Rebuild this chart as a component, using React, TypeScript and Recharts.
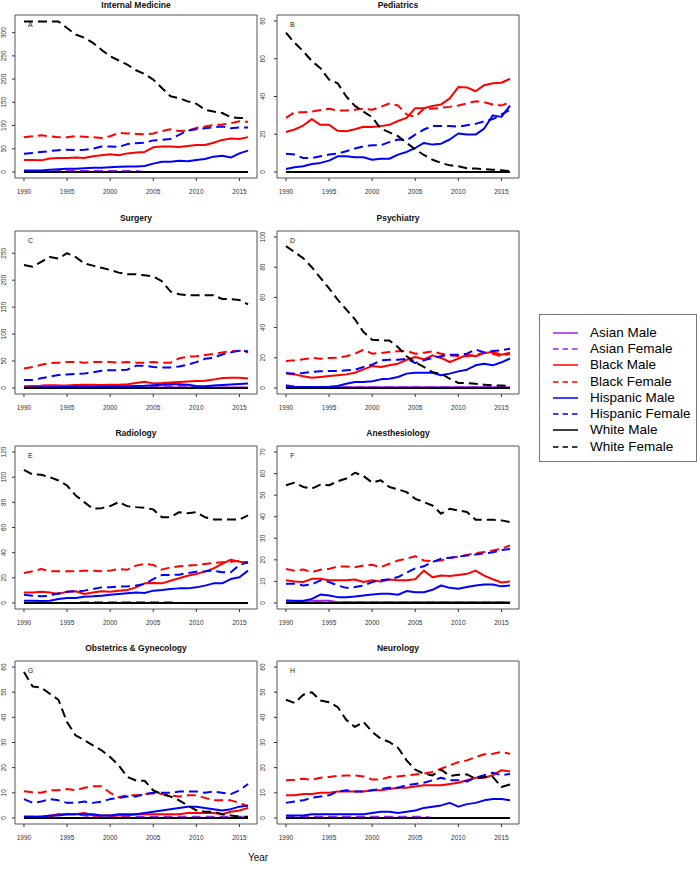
import React from 'react';
import { LineChart, Line, XAxis, YAxis, ReferenceArea, ReferenceDot, Legend } from 'recharts';

const FONT = '"Liberation Sans", Arial, Helvetica, sans-serif';

const years = [1990, 1991, 1992, 1993, 1994, 1995, 1996, 1997, 1998, 1999, 2000, 2001, 2002, 2003, 2004, 2005, 2006, 2007, 2008, 2009, 2010, 2011, 2012, 2013, 2014, 2015, 2016];
const xTicks = [1990, 1995, 2000, 2005, 2010, 2015];

// one small table per specialty, one list per group (1990..2016)
const internalMedicine = {
  asianMale: [0, 0, 0, 0, 0, 0, 0, 0, 0, 0, 0, 0, 0, 0, 0, 0, 0, 0, 0, 0, 0, 0, 0, 0, 0, 0, 0],
  asianFemale: [0, 0, 0, 0, 2, 2, 2, 2, 2, 2, 2, 2, 2, 2, 0, 0, 0, 0, 0, 0, 0, 0, 0, 0, 0, 0, 0],
  blackMale: [26, 26, 25, 29, 30, 30, 31, 30, 34, 36, 38, 36, 40, 42, 43, 53, 55, 55, 54, 56, 58, 58, 63, 69, 72, 71, 75],
  blackFemale: [75, 77, 79, 77, 75, 75, 77, 76, 75, 73, 77, 84, 83, 82, 81, 83, 88, 92, 88, 89, 95, 98, 101, 102, 105, 109, 108],
  hispanicMale: [3, 3, 3, 5, 6, 7, 7, 8, 9, 9, 10, 11, 12, 12, 13, 18, 22, 22, 24, 23, 26, 28, 33, 35, 31, 40, 46],
  hispanicFemale: [39, 41, 43, 45, 47, 48, 47, 48, 50, 55, 55, 54, 60, 62, 63, 68, 69, 71, 80, 89, 92, 94, 96, 98, 94, 96, 96],
  whiteMale: [0, 0, 0, 0, 0, 0, 0, 0, 0, 0, 0, 0, 0, 0, 0, 0, 0, 0, 0, 0, 0, 0, 0, 0, 0, 0, 0],
  whiteFemale: [324, 324, 324, 324, 324, 310, 296, 289, 278, 263, 249, 240, 231, 219, 211, 199, 181, 163, 159, 152, 147, 134, 130, 127, 118, 116, 116],
};

const pediatrics = {
  asianMale: [0, 0, 0, 0, 0, 0, 0, 0, 0, 0, 0, 0, 0, 0, 0, 0, 0, 0, 0, 0, 0, 0, 0, 0, 0, 0, 0],
  asianFemale: [0, 0, 0, 0, 0, 0, 0, 0, 0, 0, 0, 0, 0, 0, 0, 0, 0, 0, 0, 0, 0, 0, 0, 0, 0, 0, 0],
  blackMale: [21.2, 22.5, 24.6, 28, 25, 25, 21.8, 21.6, 22.6, 24, 23.8, 24.3, 25, 27, 28.7, 33.8, 33.8, 35, 35.8, 39, 45, 44.8, 42.8, 46, 47, 47.3, 49.4],
  blackFemale: [28.7, 31.7, 31.7, 32, 32.8, 33.5, 32.6, 32.6, 33, 33.5, 33, 34.5, 36.3, 35.2, 30.5, 29.2, 33.5, 33.5, 34, 34.5, 35.2, 36.3, 37.5, 37, 35.8, 35.2, 37],
  hispanicMale: [1.6, 2.5, 3, 4.2, 4.8, 6, 8.3, 8.3, 7.8, 7.8, 6.5, 7, 7, 9.2, 10.6, 12.7, 15.4, 14.5, 15, 17.2, 20.4, 19.8, 19.8, 23, 30, 29.2, 35.2],
  hispanicFemale: [9.7, 9.2, 7.4, 7.4, 8.3, 9.2, 9.7, 11, 12.4, 13.6, 14.2, 14.2, 15.8, 17.2, 16.8, 19.8, 22.5, 24.3, 24.3, 24.3, 24, 24.8, 25.5, 26.9, 28, 30.5, 33],
  whiteMale: [0, 0, 0, 0, 0, 0, 0, 0, 0, 0, 0, 0, 0, 0, 0, 0, 0, 0, 0, 0, 0, 0, 0, 0, 0, 0, 0],
  whiteFemale: [73.8, 68.5, 64, 58.8, 55, 49, 47, 40, 35, 32, 29, 23, 21, 19, 15.4, 12, 9, 6.5, 4.8, 3.5, 3, 2, 1.8, 1.5, 1.2, 0.9, 0.5],
};

const surgery = {
  asianMale: [1, 1, 1.5, 1.5, 1, 1, 1, 1, 1, 1, 1, 1, 1, 1, 1, 1, 1, 1, 1, 1, 1, 1, 1, 1, 1, 1, 1],
  asianFemale: [1, 2, 4, 5, 4, 3, 2, 1, 1, 1, 1, 1, 1, 1, 1, 2, 3, 3, 4, 4, 3, 2, 1, 0.5, 0.5, 0.5, 0.5],
  blackMale: [3, 3.5, 4, 5, 4.5, 4.5, 5.5, 6, 6, 5.5, 6, 6, 7, 9, 11.5, 8.5, 9, 10, 11, 12, 13, 13.5, 15.5, 18.5, 19, 19, 17.5],
  blackFemale: [36, 39, 43, 46, 47, 48, 48, 47, 48, 48, 48, 47, 48, 47, 47, 48, 47, 47, 55, 58, 59, 61, 63, 66, 68, 69, 66],
  hispanicMale: [1, 1, 1.5, 1.5, 2, 2, 2.5, 2.5, 2.5, 2.5, 3, 3, 3, 3.5, 4, 5, 6, 7.5, 7, 6, 3.5, 3, 4.5, 5.5, 6.5, 7.5, 8.5],
  hispanicFemale: [15, 15, 18, 21, 24, 25, 26, 27, 29, 32, 33, 33, 34, 41, 41, 39, 38, 38, 40, 43, 48, 54, 56, 62, 66, 69, 68],
  whiteMale: [0, 0, 0, 0, 0, 0, 0, 0, 0, 0, 0, 0, 0, 0, 0, 0, 0, 0, 0, 0, 0, 0, 0, 0, 0, 0, 0],
  whiteFemale: [228, 225, 234, 243, 240, 250, 243, 231, 227, 223, 219, 214, 211, 211, 209, 207, 198, 179, 174, 172, 172, 172, 172, 165, 165, 163, 155],
};

const psychiatry = {
  asianMale: [1.5, 0.5, 0.5, 0.5, 0.5, 0.5, 0.5, 0.5, 0.5, 0.5, 0.5, 0.5, 0.5, 0.5, 0.5, 0.5, 0.5, 0.5, 0.5, 0.5, 0.5, 0.5, 0.5, 0.5, 0.5, 0.5, 0.5],
  asianFemale: [1.8, 1, 0.5, 0.5, 0.5, 0.5, 0.5, 0.5, 0.5, 0.5, 0.5, 0.5, 0.5, 0.5, 0.5, 0.5, 0.5, 0.5, 0.5, 0.5, 0.5, 0.5, 0.5, 0.5, 0.5, 0.5, 0.5],
  blackMale: [9.5, 9, 7.7, 6.8, 7.3, 7.9, 8.4, 9, 10.1, 12.3, 14.5, 13.9, 15, 16.1, 18.7, 20.5, 19, 21.6, 19.9, 17.2, 19.4, 22, 21, 23.2, 23.8, 22, 23.4],
  blackFemale: [17.9, 18.3, 19, 19.9, 19.4, 19.9, 20, 21, 22.7, 25.4, 22.7, 23.2, 23.8, 24.3, 24.5, 22.7, 23.4, 24.3, 22.7, 21.6, 21.2, 21, 22, 23.4, 22.7, 21, 22.7],
  hispanicMale: [1.3, 0.6, 0.6, 0.6, 0.6, 0.8, 1.3, 2.8, 3.9, 3.9, 4.4, 5.7, 6.1, 7.3, 9.5, 10.1, 10.1, 10.1, 8.4, 9.5, 11, 12.1, 15, 16.1, 15, 17, 19.5],
  hispanicFemale: [9.9, 9.5, 9.9, 10.6, 11, 11.2, 11.2, 11.7, 12.1, 13.9, 15.4, 18.3, 18.7, 18.7, 19.4, 16.5, 18.3, 20, 21, 22, 22, 22.7, 25.5, 23.5, 24.5, 25, 26],
  whiteMale: [0, 0, 0, 0, 0, 0, 0, 0, 0, 0, 0, 0, 0, 0, 0, 0, 0, 0, 0, 0, 0, 0, 0, 0, 0, 0, 0],
  whiteFemale: [94, 90, 86, 80, 73, 66, 58.5, 52, 45.5, 37, 32, 31.5, 31.5, 27, 21, 17, 13.9, 10.5, 9.5, 6.1, 3.3, 3.3, 2.8, 2.2, 1.7, 1.7, 1.3],
};

const radiology = {
  asianMale: [0, 0, 0, 0, 0, 0, 0, 0, 0, 0, 0, 0, 0, 0, 0, 0, 0, 0, 0, 0, 0, 0, 0, 0, 0, 0, 0],
  asianFemale: [0, 0, 0, 0, 0, 0, 0, 0.6, 0.6, 0.6, 0.6, 0.6, 0.6, 0.6, 0.6, 0.6, 0.6, 0.6, 0, 0, 0, 0, 0, 0, 0, 0, 0],
  blackMale: [8.4, 8.4, 9, 8.4, 7.1, 9, 9.3, 7.1, 8.4, 9.3, 9, 9.8, 10.3, 12.4, 15.6, 15.9, 15.6, 17.7, 19.6, 21.7, 23, 24.9, 27.5, 31, 34.4, 32.8, 32.3],
  blackFemale: [23.8, 25.2, 27, 25.2, 25.2, 25.2, 25.2, 25.7, 25.7, 25.2, 25.7, 27, 26.5, 29.7, 31, 30.2, 26.5, 28.3, 29.1, 29.7, 30.2, 31, 31.8, 32.3, 32.8, 33.6, 31.8],
  hispanicMale: [1.8, 1.8, 1.6, 1.8, 3.2, 3.9, 3.9, 5, 5.3, 5.8, 6.6, 7.1, 7.7, 8.4, 7.9, 9.8, 10.3, 11.1, 11.6, 11.6, 12.4, 13.8, 15.6, 15.6, 19, 20.4, 25.7],
  hispanicFemale: [6.6, 5.8, 5.3, 5.8, 7.7, 9, 9.3, 9.8, 11.1, 12.4, 12.4, 13, 13.2, 13.8, 15.1, 19, 22.2, 22.2, 22.5, 23.8, 24.9, 25.2, 25.7, 24.4, 24.4, 30.2, 32.3],
  whiteMale: [0, 0, 0, 0, 0, 0, 0, 0, 0, 0, 0, 0, 0, 0, 0, 0, 0, 0, 0, 0, 0, 0, 0, 0, 0, 0, 0],
  whiteFemale: [105.9, 102.2, 102, 100, 97.4, 93.4, 85.5, 80.2, 74.9, 75.4, 77, 80.2, 77, 76.2, 75.7, 74.4, 68.2, 68.2, 72.2, 71.4, 72.2, 68.2, 66.4, 66.4, 66.4, 66.4, 69.6],
};

const anesthesiology = {
  asianMale: [1, 1, 1, 1, 1, 1, 0.3, 0.3, 0.3, 0.3, 0.3, 0.3, 0.3, 0.3, 0.3, 0.3, 0.3, 0.3, 0.3, 0.3, 0.3, 0.3, 0.3, 0.3, 0.3, 0.3, 0.3],
  asianFemale: [0.5, 0.5, 0.5, 0.5, 0.5, 0.5, 0.5, 0.5, 0.5, 0.5, 0.5, 0.5, 0.5, 0.5, 0.5, 0.5, 0.5, 0.5, 0.5, 0.5, 0.5, 0.5, 0.5, 0.5, 0.5, 0.5, 0.5],
  blackMale: [10.5, 10, 9.7, 11.2, 11.2, 10.5, 10.5, 10.5, 10.9, 9.7, 10.5, 10, 10.9, 10.5, 10.5, 11, 15, 11.9, 12.7, 12.5, 13, 13.5, 15, 12.7, 11, 9.5, 10],
  blackFemale: [15.8, 15, 15.5, 14.3, 15.4, 15.8, 16.9, 16.9, 16.6, 17.4, 17.7, 16.6, 18.2, 19.7, 20.5, 21.7, 19.7, 19.4, 19.7, 20.8, 21.5, 22.3, 23.1, 23.6, 24.3, 25.1, 26.7],
  hispanicMale: [1.2, 0.9, 0.9, 1.9, 3.9, 3.5, 2.7, 2.7, 3, 3.5, 3.9, 4.3, 4.3, 3.8, 5.5, 5, 5, 6.1, 8.1, 7, 6.6, 7.4, 8.1, 8.6, 8.6, 7.7, 8.1],
  hispanicFemale: [8.9, 8.9, 8.1, 8.6, 10.5, 9.7, 8.1, 7, 7.4, 8.1, 9.7, 10.5, 11, 12, 14, 16, 17, 19, 20.5, 21, 21.5, 22, 22.5, 23, 23.5, 24.5, 25],
  whiteMale: [0, 0, 0, 0, 0, 0, 0, 0, 0, 0, 0, 0, 0, 0, 0, 0, 0, 0, 0, 0, 0, 0, 0, 0, 0, 0, 0],
  whiteFemale: [54.6, 55.8, 53.8, 53, 54.9, 54.6, 56.4, 57.7, 60.4, 58.9, 55.8, 56.9, 53.8, 52.7, 51.4, 48.3, 46.8, 45.2, 41.4, 43.7, 42.9, 42.2, 38.6, 38.6, 38.6, 38.3, 37.5],
};

const obGyn = {
  asianMale: [0, 0, 0, 0, 0, 0, 0, 0, 0, 0, 0, 0, 0, 0, 0, 0, 0, 0, 0, 0, 0, 0, 0, 0, 0, 0, 0],
  asianFemale: [0.5, 0.5, 0.5, 1, 1.5, 1.5, 1.5, 1, 0.5, 0.5, 0.5, 0.5, 0.5, 0.5, 0.5, 0.5, 0.5, 0.5, 0.5, 0.5, 0.5, 0.5, 0.5, 0.5, 0.5, 0.5, 0.5],
  blackMale: [0.5, 0.5, 0.5, 0.5, 1.5, 1.5, 1.5, 2, 1, 1, 1, 1, 1, 1.5, 1.5, 1.5, 1.5, 1.5, 1.5, 2, 2, 2, 2, 1.5, 2.5, 3, 4],
  blackFemale: [10.6, 10.2, 10, 11, 11, 11.5, 11, 12, 12.6, 12.6, 10, 8.2, 9, 9, 9.5, 9.8, 9.5, 9, 8.5, 9, 9, 8, 7, 7, 7, 6, 4.6],
  hispanicMale: [0.5, 0.5, 0.5, 1, 1, 1.5, 1.5, 1.5, 1.5, 1, 1, 1.5, 1.5, 1.5, 2, 2.5, 3, 3.5, 4, 4.5, 4.5, 4, 3.5, 3, 3.5, 4.5, 5],
  hispanicFemale: [7.5, 6, 6.5, 7.5, 7, 6, 6, 6.5, 6, 6.5, 7.5, 8, 8.5, 8.5, 9.5, 10, 10, 10, 10.5, 10.5, 10.5, 10, 10.5, 10, 9.5, 11, 13.5],
  whiteMale: [0, 0, 0, 0, 0, 0, 0, 0, 0, 0, 0, 0, 0, 0, 0, 0, 0, 0, 0, 0, 0, 0, 0, 0, 0, 0, 0],
  whiteFemale: [58, 52.3, 51.8, 49.4, 47, 38.1, 32.8, 30.9, 28.9, 26.9, 24.2, 20.9, 16.3, 14.9, 14.8, 11, 9.5, 8.5, 7, 5, 3, 2.5, 2.5, 1.5, 1, 0.5, 0.5],
};

const neurology = {
  asianMale: [0, 0, 0, 0, 0, 0, 0, 0, 0, 0, 0, 0, 0, 0, 0, 0, 0, 0, 0, 0, 0, 0, 0, 0, 0, 0, 0],
  asianFemale: [0.5, 0.5, 0.5, 0.5, 0.5, 0.5, 0.5, 0.5, 0.5, 0.5, 0.5, 0.5, 0.5, 0.5, 0.5, 0.5, 0.5, 0, 0, 0, 0, 0, 0, 0, 0, 0, 0],
  blackMale: [9, 9, 9.5, 9.5, 10, 10, 10.5, 10.5, 10.5, 10.5, 11, 11, 11.5, 12, 12, 12.5, 13, 13, 13, 13.5, 14, 15, 16, 16, 17, 19, 18.5],
  blackFemale: [15, 15.2, 15.6, 15.2, 16, 16.3, 16.7, 16.9, 16.9, 16.5, 15.3, 15.3, 16.3, 16.5, 16.9, 17.3, 17.6, 18.3, 19.6, 20.9, 22.2, 22.9, 24.2, 25.3, 25.5, 26.2, 25.5],
  hispanicMale: [1, 1, 1, 1.5, 1.5, 1.5, 1.5, 1.5, 1.5, 1.5, 2, 2.5, 2.5, 2, 2.5, 3, 4, 4.5, 5, 6, 4.5, 5.5, 6, 7, 7.5, 7.5, 7],
  hispanicFemale: [6, 6.5, 7, 8, 8.5, 9, 10.5, 11, 10.5, 10.5, 11, 11.5, 12, 12, 13, 13.5, 14, 15, 16, 15, 15, 14.5, 16, 17, 18, 17, 17.5],
  whiteMale: [0, 0, 0, 0, 0, 0, 0, 0, 0, 0, 0, 0, 0, 0, 0, 0, 0, 0, 0, 0, 0, 0, 0, 0, 0, 0, 0],
  whiteFemale: [47, 45.7, 49, 50, 46.7, 46, 44.1, 39, 36.2, 38.2, 34.2, 31.5, 30.2, 27.9, 22.9, 19.2, 17.6, 16.9, 19.2, 16.7, 17.2, 17.3, 15.6, 16.3, 16.3, 12.3, 13.3],
};

const series = [
  { key: 'asianMale', name: 'Asian Male', color: '#A020F0', dashed: false },
  { key: 'asianFemale', name: 'Asian Female', color: '#A020F0', dashed: true },
  { key: 'blackMale', name: 'Black Male', color: '#FF0000', dashed: false },
  { key: 'blackFemale', name: 'Black Female', color: '#FF0000', dashed: true },
  { key: 'hispanicMale', name: 'Hispanic Male', color: '#0000FF', dashed: false },
  { key: 'hispanicFemale', name: 'Hispanic Female', color: '#0000FF', dashed: true },
  { key: 'whiteMale', name: 'White Male', color: '#000000', dashed: false },
  { key: 'whiteFemale', name: 'White Female', color: '#000000', dashed: true },
];

const panels = [
  { title: 'Internal Medicine', letter: 'A', table: internalMedicine, yMax: 325, yTicks: [0, 50, 100, 150, 200, 250, 300] },
  { title: 'Pediatrics', letter: 'B', table: pediatrics, yMax: 80, yTicks: [0, 20, 40, 60, 80] },
  { title: 'Surgery', letter: 'C', table: surgery, yMax: 280, yTicks: [0, 50, 100, 150, 200, 250] },
  { title: 'Psychiatry', letter: 'D', table: psychiatry, yMax: 100, yTicks: [0, 20, 40, 60, 80, 100] },
  { title: 'Radiology', letter: 'E', table: radiology, yMax: 120, yTicks: [0, 20, 40, 60, 80, 100, 120] },
  { title: 'Anesthesiology', letter: 'F', table: anesthesiology, yMax: 70, yTicks: [0, 10, 20, 30, 40, 50, 60, 70] },
  { title: 'Obstetrics & Gynecology', letter: 'G', table: obGyn, yMax: 60, yTicks: [0, 10, 20, 30, 40, 50, 60] },
  { title: 'Neurology', letter: 'H', table: neurology, yMax: 60, yTicks: [0, 10, 20, 30, 40, 50, 60] },
];

const X_DOMAIN = [1988.96, 2017.04];
const ROW_TOP = [0, 215.5, 431, 646];
const CHART_H = 203;
const PLOT_TOP = 15;
const PLOT_W = 242;

const YTick = ({ x, y, payload }: any) => (
  <text
    x={0}
    y={0}
    transform={`translate(${x},${y}) rotate(-90)`}
    textAnchor="middle"
    fontSize={6.5}
    fill="#333"
    fontFamily={FONT}
  >
    {payload.value}
  </text>
);

const LegendBox = () => (
  <div
    style={{
      width: 158,
      height: 148,
      boxSizing: 'border-box',
      border: '1px solid #777',
      background: '#fff',
      paddingTop: 9.5,
      fontFamily: FONT,
      fontSize: 13.5,
      color: '#000',
    }}
  >
    {series.map((s) => (
      <div key={s.key} style={{ display: 'flex', alignItems: 'center', height: 16.3 }}>
        <svg width={50} height={6} style={{ flex: 'none' }}>
          <line
            x1={13}
            x2={38}
            y1={3}
            y2={3}
            stroke={s.color}
            strokeWidth={1.5}
            strokeDasharray={s.dashed ? '5.5 4' : undefined}
          />
        </svg>
        <span style={{ whiteSpace: 'nowrap', lineHeight: '16px' }}>{s.name}</span>
      </div>
    ))}
  </div>
);

const Panel = ({ panel, index }: { panel: any; index: number }) => {
  const col = index % 2;
  const row = Math.floor(index / 2);
  const left = col === 0 ? 0 : 257;
  const yAxisW = col === 0 ? 15 : 20;
  const width = yAxisW + PLOT_W + 8;
  const top = ROW_TOP[row];
  const dom = [-0.04 * panel.yMax, 1.04 * panel.yMax];
  const rows = years.map((year, i) => {
    const r: any = { year };
    series.forEach((s) => {
      r[s.key] = panel.table[s.key][i];
    });
    return r;
  });

  return (
    <div style={{ position: 'absolute', left, top, width, height: CHART_H }}>
      <div
        style={{
          position: 'absolute',
          left: yAxisW,
          width: PLOT_W,
          top: row === 0 ? -0.5 : -3,
          textAlign: 'center',
          fontFamily: FONT,
          fontWeight: 'bold',
          fontSize: 8.5,
          lineHeight: '10px',
          color: '#111',
          whiteSpace: 'nowrap',
        }}
      >
        {panel.title}
      </div>
      <LineChart
        width={width}
        height={CHART_H}
        data={rows}
        margin={{ top: PLOT_TOP, right: 8, bottom: 2, left: 0 }}
      >
        <XAxis
          dataKey="year"
          type="number"
          domain={X_DOMAIN}
          allowDataOverflow
          ticks={xTicks}
          interval={0}
          height={23}
          axisLine={false}
          tickSize={3}
          tickMargin={8.5}
          tickLine={{ stroke: '#333' }}
          tick={{ fontSize: 6.5, fill: '#333', fontFamily: FONT }}
        />
        <YAxis
          type="number"
          domain={dom}
          allowDataOverflow
          ticks={panel.yTicks}
          interval={0}
          width={yAxisW}
          axisLine={false}
          tickSize={3}
          tickMargin={col === 0 ? 6 : 9}
          tickLine={{ stroke: '#333' }}
          tick={<YTick />}
        />
        <ReferenceArea
          x1={X_DOMAIN[0]}
          x2={X_DOMAIN[1]}
          y1={dom[0]}
          y2={dom[1]}
          fill="none"
          stroke="#555"
          strokeWidth={1}
          ifOverflow="visible"
        />
        {series.map((s) => (
          <Line
            key={s.key}
            type="linear"
            dataKey={s.key}
            name={s.name}
            stroke={s.color}
            strokeWidth={2}
            strokeDasharray={s.dashed ? '9 5' : undefined}
            strokeLinejoin="round"
            dot={false}
            activeDot={false}
            isAnimationActive={false}
          />
        ))}
        <ReferenceDot
          x={1990.75}
          y={panel.yMax * 0.98}
          r={0}
          fill="none"
          stroke="none"
          label={{ value: panel.letter, position: 'center', fontSize: 7, fill: '#222', fontFamily: FONT }}
        />
        {index === 3 ? (
          <Legend
            layout="vertical"
            align="center"
            verticalAlign="middle"
            wrapperStyle={{ position: 'absolute', left: 282, top: 98.5, width: 158, height: 148 }}
            content={() => <LegendBox />}
          />
        ) : null}
      </LineChart>
    </div>
  );
};

export default function App() {
  return (
    <div style={{ position: 'absolute', left: 0, top: 0, width: 697, height: 874, background: '#fff' }}>
      {panels.map((p, i) => (
        <Panel key={p.letter} panel={p} index={i} />
      ))}
      <div
        style={{
          position: 'absolute',
          left: 258,
          top: 852,
          transform: 'translateX(-50%)',
          fontFamily: FONT,
          fontSize: 10,
          lineHeight: '12px',
          color: '#111',
        }}
      >
        Year
      </div>
    </div>
  );
}
